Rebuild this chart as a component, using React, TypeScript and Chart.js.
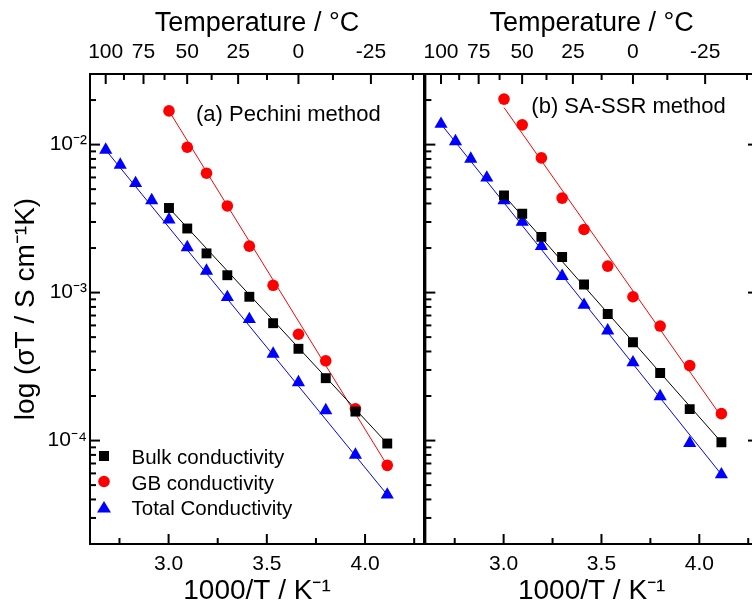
import React, { useEffect, useRef } from "react";
import { Chart, registerables } from "chart.js";

Chart.register(...registerables);

// ---------------- data ----------------
// 1000/T positions of the measurements (100 °C ... -30 °C in 10 °C steps)
const xAll = [2.68, 2.754, 2.832, 2.914, 3.002, 3.095, 3.193, 3.299, 3.411, 3.532, 3.661, 3.8, 3.951, 4.113];
const xHigh = [3.002, 3.095, 3.193, 3.299, 3.411, 3.532, 3.661, 3.8, 3.951, 4.113];

// (a) Pechini method
const bulkA = [3.73e-3, 2.71e-3, 1.84e-3, 1.31e-3, 9.37e-4, 6.21e-4, 4.17e-4, 2.64e-4, 1.57e-4, 9.55e-5];
const gbA = [1.69e-2, 9.6e-3, 6.41e-3, 3.85e-3, 2.06e-3, 1.12e-3, 5.23e-4, 3.46e-4, 1.64e-4, 6.8e-5];
const totalA = [9.2e-3, 7.3e-3, 5.48e-3, 4.2e-3, 3.11e-3, 2.02e-3, 1.4e-3, 9.3e-4, 6.6e-4, 3.85e-4, 2.47e-4, 1.6e-4, 8.0e-5, 4.3e-5];

// (b) SA-SSR method
const bulkB = [4.54e-3, 3.41e-3, 2.38e-3, 1.74e-3, 1.135e-3, 7.16e-4, 4.62e-4, 2.86e-4, 1.63e-4, 9.75e-5];
const gbB = [2.03e-2, 1.36e-2, 8.13e-3, 4.35e-3, 2.67e-3, 1.51e-3, 9.37e-4, 5.94e-4, 3.21e-4, 1.52e-4];
const totalB = [1.377e-2, 1.052e-2, 8.0e-3, 5.97e-3, 4.2e-3, 3.0e-3, 2.06e-3, 1.29e-3, 8.24e-4, 5.53e-4, 3.37e-4, 1.99e-4, 9.6e-5, 5.9e-5];

// fitted straight lines (end points)
const fitXAll = [2.68, 4.113];
const fitXHigh = [3.002, 4.113];
const fitBulkA = [3.73e-3, 9.55e-5];
const fitGbA = [1.69e-2, 6.8e-5];
const fitTotalA = [9.2e-3, 4.3e-5];
const fitBulkB = [4.54e-3, 9.75e-5];
const fitGbB = [1.78e-2, 1.45e-4];
const fitTotalB = [1.377e-2, 5.9e-5];

const seriesNames = ["Bulk conductivity", "GB conductivity", "Total Conductivity"];
const panelTitles = ["(a) Pechini method", "(b) SA-SSR method"];

// axes
const X_MIN = 2.6;
const X_MAX = 4.3;
const Y_MIN = 2e-5;
const Y_MAX = 3e-2;
const xTickValues = [3.0, 3.5, 4.0];
const xMinorValues = [2.75, 3.25, 3.75, 4.25];
const tempTicks = [100, 75, 50, 25, 0, -25];
const tempMinor = [87.5, 62.5, 37.5, 12.5, -12.5, -37.5];
const yTickValues = [1e-4, 1e-3, 1e-2];
const yTickLabels = ["10⁻⁴", "10⁻³", "10⁻²"];
const yMinorMultipliers = [2, 3, 4, 5, 6, 7, 8, 9];
const yDecades = [1e-5, 1e-4, 1e-3, 1e-2];

const FONT = "'Liberation Sans', Arial, Helvetica, sans-serif";
Chart.defaults.font.family = FONT;
Chart.defaults.color = "#000";

const COLORS = ["#000000", "#ff0000", "#0000ff"];
const STYLES = ["rect", "circle", "triangle"];

const toK = (t: number) => 1000 / (t + 273.15);

function pts(xs: number[], ys: number[]) {
  return xs.map((x, i) => ({ x, y: ys[i] }));
}

function drawMarker(ctx: CanvasRenderingContext2D, style: string, x: number, y: number, color: string) {
  ctx.fillStyle = color;
  ctx.beginPath();
  if (style === "rect") {
    ctx.rect(x - 5, y - 5, 10, 10);
  } else if (style === "circle") {
    ctx.arc(x, y, 5.8, 0, Math.PI * 2);
  } else {
    ctx.moveTo(x, y - 6);
    ctx.lineTo(x + 7, y + 5.5);
    ctx.lineTo(x - 7, y + 5.5);
    ctx.closePath();
  }
  ctx.fill();
}

const frameTicks = {
  id: "frameTicks",
  afterDatasetsDraw(chart: any, _args: any, opts: any) {
    const { ctx, chartArea: a, scales } = chart;
    const L = 10;
    const S = 6;
    ctx.save();
    ctx.strokeStyle = "#000";
    ctx.lineWidth = 2;
    ctx.strokeRect(a.left, a.top, a.right - a.left, a.bottom - a.top);
    const seg = (x1: number, y1: number, x2: number, y2: number) => {
      ctx.beginPath();
      ctx.moveTo(x1, y1);
      ctx.lineTo(x2, y2);
      ctx.stroke();
    };
    xTickValues.forEach((v) => {
      const p = scales.x.getPixelForValue(v);
      seg(p, a.bottom, p, a.bottom - L);
    });
    xMinorValues.forEach((v) => {
      const p = scales.x.getPixelForValue(v);
      seg(p, a.bottom, p, a.bottom - S);
    });
    tempTicks.forEach((t) => {
      const p = scales.x2.getPixelForValue(toK(t));
      seg(p, a.top, p, a.top + L);
    });
    tempMinor.forEach((t) => {
      const p = scales.x2.getPixelForValue(toK(t));
      seg(p, a.top, p, a.top + S);
    });
    yTickValues.forEach((v) => {
      const p = scales.y.getPixelForValue(v);
      seg(a.left, p, a.left + L, p);
      if (opts.right) seg(a.right, p, a.right - L, p);
    });
    yDecades.forEach((d) => {
      yMinorMultipliers.forEach((m) => {
        const v = d * m;
        if (v < Y_MIN || v > Y_MAX) return;
        const p = scales.y.getPixelForValue(v);
        seg(a.left, p, a.left + S, p);
      });
    });
    ctx.restore();
  },
};

const annotations = {
  id: "annotations",
  afterDraw(chart: any, _args: any, opts: any) {
    const { ctx, chartArea: a } = chart;
    ctx.save();
    ctx.fillStyle = "#000";
    ctx.textBaseline = "alphabetic";
    ctx.textAlign = "left";
    ctx.font = `22px ${FONT}`;
    ctx.fillText(opts.title, a.left + 106, a.top + opts.titleDy);
    if (opts.legend) {
      ctx.font = `20.5px ${FONT}`;
      seriesNames.forEach((name, i) => {
        const base = a.bottom - 80 + i * 25.5;
        drawMarker(ctx, STYLES[i], a.left + 14, base - 8, COLORS[i]);
        ctx.fillStyle = "#000";
        ctx.fillText(name, a.left + 41.5, base);
      });
    }
    ctx.restore();
  },
};

function makeConfig(panel: number): any {
  const isLeft = panel === 0;
  const bulk = isLeft ? bulkA : bulkB;
  const gb = isLeft ? gbA : gbB;
  const total = isLeft ? totalA : totalB;
  const fB = isLeft ? fitBulkA : fitBulkB;
  const fG = isLeft ? fitGbA : fitGbB;
  const fT = isLeft ? fitTotalA : fitTotalB;

  const marker = (i: number, xs: number[], ys: number[], r: number) => ({
    label: seriesNames[i],
    data: pts(xs, ys),
    pointStyle: STYLES[i],
    pointRadius: r,
    pointBackgroundColor: COLORS[i],
    pointBorderColor: COLORS[i],
    pointBorderWidth: 0,
    showLine: false,
  });
  const fit = (i: number, xs: number[], ys: number[]) => ({
    label: seriesNames[i] + " fit",
    data: pts(xs, ys),
    showLine: true,
    borderColor: COLORS[i],
    borderWidth: 1,
    pointRadius: 0,
    fill: false,
  });

  const tickFont = { size: 21, family: FONT };
  return {
    type: "scatter",
    data: {
      datasets: [
        marker(0, xHigh, bulk, 7),
        marker(1, xHigh, gb, 5.8),
        marker(2, xAll, total, 7.6),
        fit(0, fitXHigh, fB),
        fit(1, fitXHigh, fG),
        fit(2, fitXAll, fT),
      ],
    },
    options: {
      responsive: false,
      animation: false,
      layout: { autoPadding: false, padding: { left: 0, right: 2, top: 0, bottom: 0 } },
      plugins: {
        legend: { display: false },
        tooltip: { enabled: false },
        frameTicks: { right: !isLeft },
        annotations: { title: panelTitles[panel], titleDy: isLeft ? 47 : 39, legend: isLeft },
      },
      scales: {
        x: {
          type: "linear",
          position: "bottom",
          min: X_MIN,
          max: X_MAX,
          afterBuildTicks: (s: any) => {
            s.ticks = xTickValues.map((value) => ({ value }));
          },
          afterFit: (s: any) => {
            s.height = 64;
          },
          grid: { display: false, drawTicks: false },
          border: { display: false },
          ticks: {
            autoSkip: false,
            maxRotation: 0,
            padding: 8,
            font: tickFont,
            color: "#000",
            callback: (v: any) => Number(v).toFixed(1),
          },
          title: {
            display: true,
            text: "1000/T / K⁻¹",
            font: { size: 28, family: FONT },
            color: "#000",
            padding: { top: 0, bottom: 0 },
          },
        },
        x2: {
          type: "linear",
          position: "top",
          min: X_MIN,
          max: X_MAX,
          afterBuildTicks: (s: any) => {
            s.ticks = tempTicks.map((t) => ({ value: toK(t) }));
          },
          afterFit: (s: any) => {
            s.height = 74;
          },
          grid: { display: false, drawTicks: false },
          border: { display: false },
          ticks: {
            autoSkip: false,
            maxRotation: 0,
            padding: 9,
            font: tickFont,
            color: "#000",
            callback: (_v: any, i: number) => String(tempTicks[i]),
          },
          title: {
            display: true,
            text: "Temperature / °C",
            font: { size: 27, family: FONT },
            color: "#000",
            padding: { top: 7, bottom: 0 },
          },
        },
        y: {
          type: "logarithmic",
          position: "left",
          min: Y_MIN,
          max: Y_MAX,
          afterBuildTicks: (s: any) => {
            s.ticks = yTickValues.map((value) => ({ value }));
          },
          afterFit: (s: any) => {
            s.width = isLeft ? 90 : 10;
          },
          grid: { display: false, drawTicks: false },
          border: { display: false },
          ticks: {
            display: isLeft,
            autoSkip: false,
            padding: 3,
            font: tickFont,
            color: "#000",
            callback: (_v: any, i: number) => yTickLabels[i],
          },
          title: {
            display: isLeft,
            text: "log (σT / S cm⁻¹K)",
            font: { size: 28, family: FONT },
            color: "#000",
            padding: { top: 9, bottom: 0 },
          },
        },
      },
    },
    plugins: [frameTicks, annotations],
  };
}

export default function App() {
  const leftRef = useRef<HTMLCanvasElement>(null);
  const rightRef = useRef<HTMLCanvasElement>(null);

  useEffect(() => {
    const c1 = new Chart(leftRef.current as HTMLCanvasElement, makeConfig(0));
    const c2 = new Chart(rightRef.current as HTMLCanvasElement, makeConfig(1));
    return () => {
      c1.destroy();
      c2.destroy();
    };
  }, []);

  return (
    <div
      style={{
        position: "absolute",
        left: 0,
        top: 0,
        width: 752,
        height: 608,
        overflow: "hidden",
        background: "#fff",
      }}
    >
      <canvas
        ref={leftRef}
        width={426}
        height={608}
        style={{ position: "absolute", left: 0, top: 0, width: 426, height: 608 }}
      />
      <canvas
        ref={rightRef}
        width={346}
        height={608}
        style={{ position: "absolute", left: 414, top: 0, width: 346, height: 608 }}
      />
    </div>
  );
}
